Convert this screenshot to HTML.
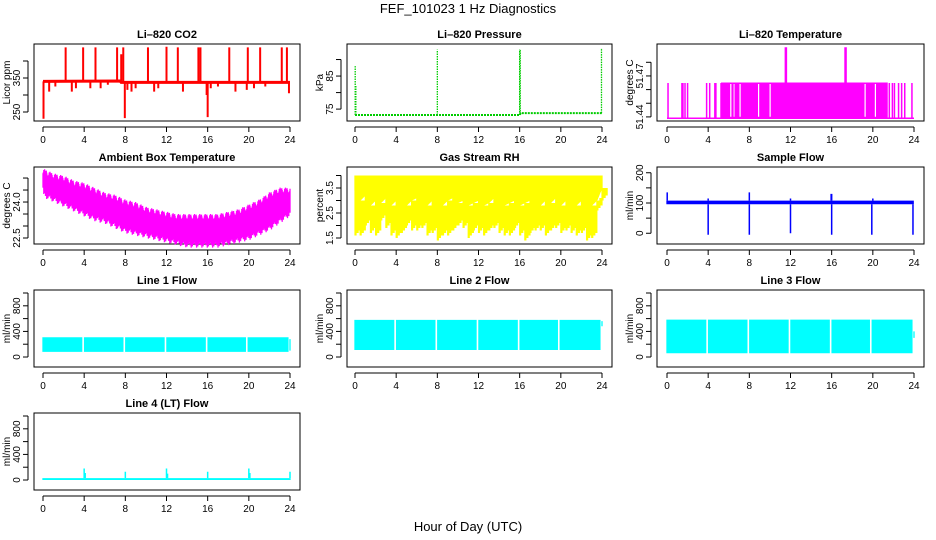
<!DOCTYPE html>
<html><head><meta charset="utf-8">
<style>
html,body{margin:0;padding:0;background:#fff;}
svg{display:block;font-family:"Liberation Sans",sans-serif;}
</style></head>
<body>
<svg id="chart" width="936" height="540" viewBox="0 0 936 540" xmlns="http://www.w3.org/2000/svg">
<text x="468" y="13" text-anchor="middle" font-size="13">FEF_101023  1 Hz Diagnostics</text>
<text x="468" y="531" text-anchor="middle" font-size="13">Hour of Day (UTC)</text>
</svg>
<script>
// ---- data ----
const xTicks = [0, 4, 8, 12, 16, 20, 24];
const co2BaseT = [0, 7.5, 7.6, 24];
const co2BaseV = [340, 341, 337, 337];
const co2SpikeT = [0.05,0.6,1.2,2.2,2.8,3.2,3.9,4.6,5.1,5.6,6.3,7.2,7.6,7.8,7.95,8.2,8.6,9.0,10.2,10.8,11.2,12.0,13.1,13.6,15.1,15.3,15.9,16.0,16.3,17.0,18.1,18.7,19.8,19.9,20.5,21.1,21.6,23.2,23.7,23.9];
const co2SpikeV = [230,310,325,440,310,320,440,320,440,320,330,440,420,440,232,315,310,320,440,310,320,442,440,310,440,440,300,235,320,325,440,310,315,440,320,440,325,440,440,305];
const presBaseT = [0, 16, 16.1, 24];
const presBaseV = [73.2, 73.2, 73.8, 73.8];
const presSpikeT = [0.02, 0.08, 8.0, 16.0, 16.05, 23.95];
const presSpikeV = [88, 82, 93, 93, 93, 93.5];
const liOnStart = [5.3, 10.05, 19.3, 20.3];
const liOnEnd = [10.0, 19.2, 20.2, 21.4];
const liBlipT = [0.1,1.45,1.55,1.75,2.0,3.85,4.15,4.65,4.75,5.25,6.0,6.4,7.5,21.6,21.9,22.1,22.5,22.8,23.1,23.8];
const liGapT = [6.2, 6.5, 7.1, 8.9, 10.02, 19.25, 20.25];
const liSpikeT = [11.5, 11.6, 17.3, 17.4];
const liBase = 51.439, liLevel = 51.4648, liSpikeV = 51.491;
const ambHi = [25.3,25.1,25.0,24.8,24.7,24.5,24.3,24.2,24.0,23.9,23.7,23.6,23.5,23.4,23.4,23.4,23.4,23.4,23.5,23.6,23.8,24.0,24.3,24.5,24.5];
const ambLo = [24.5,24.3,24.1,23.9,23.7,23.5,23.4,23.2,23.0,22.9,22.8,22.7,22.6,22.5,22.4,22.4,22.4,22.4,22.5,22.6,22.7,22.9,23.1,23.4,23.7];
const ambJag = [0.1, -0.15, 0.05, -0.2, 0.15, -0.05, -0.25, 0.1, -0.1, 0.0, 0.2, -0.3, 0.05];
const rhHi = 4.0;
const rhCore = [3.4,3.0,3.2,2.8,3.0,2.9,3.1,2.8,3.0,2.9,2.8,3.0,3.1,2.9,2.8,3.0,2.9,2.8,3.0,3.1,2.9,3.0,2.8,2.9,3.0,2.8,2.9,3.1,3.0,2.8,2.9,3.0,2.8,2.9,3.0,2.9,2.8,3.0,2.9,3.1,2.8,3.0,2.9,2.8,3.0,2.9,2.8,3.0,3.5];
const rhLo = [1.6,1.6,2.0,1.7,1.6,2.2,1.9,1.6,1.5,1.7,2.0,1.8,1.8,1.9,1.6,1.7,1.4,1.6,1.6,1.8,2.0,1.9,1.5,1.8,1.7,1.6,1.8,1.9,1.7,1.6,1.6,1.9,1.6,1.4,1.7,1.8,1.8,1.6,1.8,1.9,1.7,1.8,1.7,1.6,1.7,1.4,1.5,2.6,3.0];
const sfLo = 96, sfHi = 108;
const sfDipT = [4.0, 8.0, 12.0, 16.0, 19.9, 23.9];
const sfDipV = [-5, -5, 0, -5, -5, -5];
const sfSpikeT = [0.02, 4.0, 8.0, 12.0, 15.95, 16.0, 20.0];
const sfSpikeV = [135, 115, 135, 115, 130, 130, 115];
const l1Lo = 80, l1Hi = 310;
const l2Lo = 110, l2Hi = 580;
const l3Lo = 60, l3Hi = 585;
const flowGapT = [3.9, 7.9, 11.9, 15.9, 19.8];
const l4Lo = 0, l4Hi = 30;
const l4SpikeT = [4.0, 4.1, 8.0, 12.0, 12.1, 16.0, 20.0, 20.1, 24.0];
const l4SpikeV = [180, 110, 130, 180, 100, 130, 180, 110, 130];

// ---- layout ----
const NS = "http://www.w3.org/2000/svg";
const svg = document.getElementById('chart');
const cols = [{l:34,r:300,x0:43,x1:290},{l:347,r:612,x0:355,x1:602},{l:657,r:924,x0:667,x1:914}];
const rows = [{t:44,b:121},{t:167,b:244},{t:290,b:367},{t:413,b:490}];

function el(tag, attrs, parent){
  const e = document.createElementNS(NS, tag);
  for (const k in attrs) e.setAttribute(k, attrs[k]);
  (parent||svg).appendChild(e);
  return e;
}

function makePanel(ci, ri, name, title, ylab, dom, yTicks, yLabels){
  const c = cols[ci], r = rows[ri];
  const g = el('g', {});
  
  
  const X = h => c.x0 + (h/24)*(c.x1-c.x0);
  const Y = v => r.b - (v-dom[0])/(dom[1]-dom[0])*(r.b-r.t);
  const t = el('text', {x:(c.l+c.r)/2, y:r.t-6, 'text-anchor':'middle', 'font-size':11, 'font-weight':'bold'}, g);
  t.textContent = title;
  
  
  const box = el('rect', {x:c.l, y:r.t, width:c.r-c.l, height:r.b-r.t, fill:'none', stroke:'#000', 'stroke-width':1}, g);
  
  
  const xa = el('g', {}, g);
  
  
  el('line', {x1:X(0), x2:X(24), y1:r.b+6, y2:r.b+6, stroke:'#000'}, xa);
  xTicks.forEach(h => {
    el('line', {x1:X(h), x2:X(h), y1:r.b+6, y2:r.b+11, stroke:'#000'}, xa);
    const tx = el('text', {x:X(h), y:r.b+22, 'text-anchor':'middle', 'font-size':10}, xa);
    tx.textContent = h;
  });
  const ya = el('g', {}, g);
  
  
  el('line', {x1:c.l-6, x2:c.l-6, y1:Y(yTicks[0]), y2:Y(yTicks[yTicks.length-1]), stroke:'#000'}, ya);
  yTicks.forEach((v,i) => {
    el('line', {x1:c.l-11, x2:c.l-6, y1:Y(v), y2:Y(v), stroke:'#000'}, ya);
    if (yLabels[i] !== '') {
      const tx = el('text', {x:0, y:0, 'text-anchor':'middle', 'font-size':10, transform:`translate(${c.l-14},${Y(v)}) rotate(-90)`}, ya);
      tx.textContent = yLabels[i];
    }
  });
  const yt = el('text', {x:0, y:0, 'text-anchor':'middle', 'font-size':10, transform:`translate(${c.l-24},${(r.t+r.b)/2}) rotate(-90)`}, g);
  yt.textContent = ylab;
  
  
  return {g, X, Y};
}

function interp(ts, vs, h){
  for (let i=0;i<ts.length-1;i++){ if (h<=ts[i+1]) { const f=(h-ts[i])/(ts[i+1]-ts[i]||1); return vs[i]+f*(vs[i+1]-vs[i]); } }
  return vs[vs.length-1];
}
function series(p, name, d, color, w, extra){
  const s = el('path', Object.assign({d:d, stroke:color, 'stroke-width':w, fill:'none'}, extra||{}), p.g);
  
  
  return s;
}
function band(p, lo, hi, tEnd){
  let d = '';
  const n = Math.round(tEnd/0.04);
  for (let k=0; k<=n; k++){
    const h = k*0.04;
    d += `M${p.X(h).toFixed(1)} ${p.Y(lo(h,k)).toFixed(1)}V${p.Y(hi(h,k)).toFixed(1)}`;
  }
  return d;
}
function gapLines(p, name, lo, hi){
  const d = flowGapT.map(h=>`M${p.X(h)} ${p.Y(lo)+1}V${p.Y(hi)-1}`).join('');
  series(p, name, d, '#ffffff', 1.6);
}

// CO2
let p = makePanel(0,0,'co2','Li\u2013820 CO2','Licor ppm',[223.5,450],[250,300,350,400],['250','','350','']);
let d = co2BaseT.map((h,i)=>(i?'L':'M')+p.X(h)+' '+p.Y(co2BaseV[i])).join('');
series(p,'co2-baseline',d,'#ff0000',3);
d = co2SpikeT.map((h,i)=>`M${p.X(h)} ${p.Y(interp(co2BaseT,co2BaseV,h))}V${p.Y(co2SpikeV[i])}`).join('');
series(p,'co2-spikes',d,'#ff0000',2);

// Pressure
p = makePanel(1,0,'pressure','Li\u2013820 Pressure','kPa',[71.4,94.7],[75,80,85,90],['75','','85','']);
d = presBaseT.map((h,i)=>(i?'L':'M')+p.X(h)+' '+p.Y(presBaseV[i])).join('');
series(p,'pressure-baseline',d,'#00cc00',2,{'stroke-dasharray':'2 1'});
d = presSpikeT.map((h,i)=>`M${p.X(h)} ${p.Y(interp(presBaseT,presBaseV,h))}V${p.Y(presSpikeV[i])}`).join('');
series(p,'pressure-spikes',d,'#00cc00',1.3,{'stroke-dasharray':'1.5 1'});

// Li temp
p = makePanel(2,0,'li820-temp','Li\u2013820 Temperature','degrees C',[51.437,51.4934],[51.44,51.45,51.46,51.47,51.48],['51.44','','','51.47','']);
series(p,'li820-temp-baseline',`M${p.X(0)} ${p.Y(liBase)}H${p.X(24)}`,'#ff00ff',1.5);
d = liOnStart.map((s,i)=>`M${p.X(s)} ${p.Y(liBase)}H${p.X(liOnEnd[i])}V${p.Y(liLevel)}H${p.X(s)}Z`).join('');
series(p,'li820-temp-dense',d,'#ff00ff',1,{fill:'#ff00ff'});
d = liGapT.map(h=>`M${p.X(h)} ${p.Y(liBase)-1.5}V${p.Y(liLevel)+1}`).join('');
series(p,'li820-temp-gaps',d,'#ffffff',1.2);
d = liBlipT.map(h=>`M${p.X(h)} ${p.Y(liBase)}V${p.Y(liLevel)}`).join('');
series(p,'li820-temp-blips',d,'#ff00ff',1.5);
d = liSpikeT.map(h=>`M${p.X(h)} ${p.Y(liLevel)}V${p.Y(liSpikeV)}`).join('');
series(p,'li820-temp-spikes',d,'#ff00ff',1.5);

// Ambient
p = makePanel(0,1,'ambient-temp','Ambient Box Temperature','degrees C',[22.25,25.46],[22.5,23,23.5,24,24.5,25],['22.5','','','24.0','','']);
const hrs = ambHi.map((_,i)=>i);
d = band(p, (h,k)=>interp(hrs,ambLo,h)+ambJag[(k*7)%ambJag.length], (h,k)=>interp(hrs,ambHi,h)+ambJag[(k*5+3)%ambJag.length]*0.5, 24);
series(p,'ambient-temp-series',d,'#ff00ff',1.3);

// RH
p = makePanel(1,1,'gas-rh','Gas Stream RH','percent',[1.26,4.34],[1.5,2,2.5,3,3.5,4],['1.5','','2.5','','3.5','']);
const half = rhCore.map((_,i)=>i*0.5);
d = band(p, h=>interp(half,rhCore,h), ()=>rhHi, 24);
series(p,'gas-rh-core',d,'#ffff00',1.3);
d = rhLo.map((v,i)=>{const h=half[i];return `M${p.X(h+0.05)} ${p.Y(rhCore[i])}V${p.Y(v)}M${p.X(h+0.15)} ${p.Y(rhCore[i])}V${p.Y(v+0.3)}M${p.X(h+0.25)} ${p.Y(rhCore[i])}V${p.Y(v+0.1)}M${p.X(h+0.35)} ${p.Y(rhCore[i])}V${p.Y(v+0.5)}M${p.X(h+0.45)} ${p.Y(rhCore[i])}V${p.Y(v+0.2)}`;}).join('');
series(p,'gas-rh-dips',d,'#ffff00',2.2);

// Sample flow
p = makePanel(2,1,'sample-flow','Sample Flow','ml/min',[-35.5,219],[0,50,100,150,200],['0','','100','','200']);
d = band(p, ()=>sfLo, ()=>sfHi, 23.9);
series(p,'sample-flow-band',d,'#0000ff',1.3);
d = sfDipT.map((h,i)=>`M${p.X(h)} ${p.Y(sfLo)}V${p.Y(sfDipV[i])}`).join('');
series(p,'sample-flow-dips',d,'#0000ff',1.5);
d = sfSpikeT.map((h,i)=>`M${p.X(h)} ${p.Y(sfHi)}V${p.Y(sfSpikeV[i])}`).join('');
series(p,'sample-flow-spikes',d,'#0000ff',1.5);

// Line flows
const fDom = [-156,1047], fT = [0,200,400,600,800,1000], fL = ['0','','400','','800',''];
p = makePanel(0,2,'line1-flow','Line 1 Flow','ml/min',fDom,fT,fL);
d = band(p, ()=>l1Lo, ()=>l1Hi, 23.8) + `M${p.X(24)} ${p.Y(100)}V${p.Y(280)}`;
series(p,'line1-flow-series',d,'#00ffff',1.3);
gapLines(p,'line1-flow-gaps',l1Lo,l1Hi);
p = makePanel(1,2,'line2-flow','Line 2 Flow','ml/min',fDom,fT,fL);
d = band(p, ()=>l2Lo, ()=>l2Hi, 23.8) + `M${p.X(24)} ${p.Y(480)}V${p.Y(560)}`;
series(p,'line2-flow-series',d,'#00ffff',1.3);
gapLines(p,'line2-flow-gaps',l2Lo,l2Hi);
p = makePanel(2,2,'line3-flow','Line 3 Flow','ml/min',fDom,fT,fL);
d = band(p, ()=>l3Lo, ()=>l3Hi, 23.8) + `M${p.X(24)} ${p.Y(300)}V${p.Y(400)}`;
series(p,'line3-flow-series',d,'#00ffff',1.3);
gapLines(p,'line3-flow-gaps',l3Lo,l3Hi);
p = makePanel(0,3,'line4-flow','Line 4 (LT) Flow','ml/min',fDom,fT,fL);
d = band(p, ()=>l4Lo, ()=>l4Hi, 24);
series(p,'line4-flow-base',d,'#00ffff',1.3);
d = l4SpikeT.map((h,i)=>`M${p.X(h)} ${p.Y(l4Hi)}V${p.Y(l4SpikeV[i])}`).join('');
series(p,'line4-flow-spikes',d,'#00ffff',1.5);
</script>
</body></html>
